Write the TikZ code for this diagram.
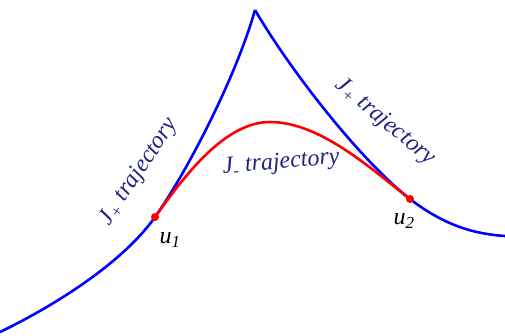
\documentclass[tikz,border=0pt]{standalone}
\usepackage{fontspec}
\setmainfont{Liberation Serif}
\usepackage{tikz}
\usetikzlibrary{positioning}
\definecolor{navy}{RGB}{35,35,130}
\tikzset{
  jplus/.style={draw=blue, line width=2.6pt},
  jminus/.style={draw=red, line width=2.6pt},
  lab/.style={text=navy, font=\fontsize{24}{26}\selectfont\itshape},
  ulab/.style={text=black, font=\fontsize{24}{26}\selectfont\itshape}}

\begin{document}
\begin{tikzpicture}[x=1pt,y=-1pt]
  \useasboundingbox (0,0) rectangle (505,335);
    \coordinate (s) at (0,332);
    \coordinate (c) at (255,10);
    \coordinate (e) at (505,236);
    \coordinate (1) at (155,217);
    \coordinate (2) at (410,199);
    \coordinate (p) at (270,122);
\draw [jplus] (s) .. controls (60,303) and (125,260) .. (1)
              .. controls (185,175) and (235,80) .. (c);
\draw [jplus] (c) .. controls (290,70) and (360,160) .. (2)
              .. controls (445,226) and (475,234) .. (e);
\draw [jminus] (1) .. controls (185,175) and (225,122) .. (p)
              .. controls (320,122) and (370,168) .. (2);
  \node [lab, rotate=56] (l1) at (139,172) {J\textsubscript{+} trajectory};
  \node [lab, rotate=5] (l2) at (281,163) {J\textsubscript{-} trajectory};
  \node [lab, rotate=-40] (l3) at (385,122) {J\textsubscript{+} trajectory};
  \node [ulab] (n1) at (170,240) {u\textsubscript{1}};
  \node [ulab] (n2) at (404,221) {u\textsubscript{2}};
       \fill [red] (1) circle (4);
       \fill [red] (2) circle (4);
\end{tikzpicture}
\end{document}
